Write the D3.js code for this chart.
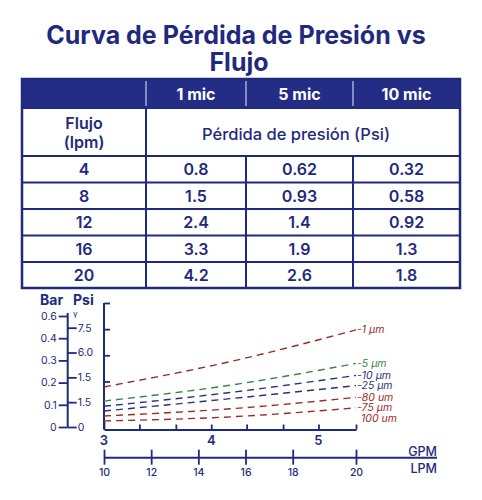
<!DOCTYPE html>
<html>
<head>
<meta charset="utf-8">
<script src="https://cdn.jsdelivr.net/npm/d3@7"></script>
<style>
  body { margin: 0; background: #fff; }
  svg { display: block; font-family: Inter, "Open Sans", sans-serif; }
</style>
</head>
<body>
<div id="chart"></div>
<script>
// table data
const tableHead = ["", "1 mic", "5 mic", "10 mic"];
const flujo = [4, 8, 12, 16, 20];
const mic1 = ["0.8", "1.5", "2.4", "3.3", "4.2"];
const mic5 = ["0.62", "0.93", "1.4", "1.9", "2.6"];
const mic10 = ["0.32", "0.58", "0.92", "1.3", "1.8"];

// curve data (flow in GPM, loss in chart units)
const flowGpm = [3.0, 4.2, 5.35];
const loss1 = [1.59, 2.58, 3.77];
const loss5 = [1.05, 1.67, 2.49];
const loss10 = [0.85, 1.39, 2.03];
const loss25 = [0.67, 1.15, 1.64];
const loss80 = [0.48, 0.76, 1.19];
const loss75 = [0.29, 0.45, 0.79];
const curveNames = ["-1 \u00b5m", "-5 \u00b5m", "-10 \u00b5m", "-25 \u00b5m", "-80 um", "-75 \u00b5m"];
const extraLabel = "100 um";

// axis ticks
const barTicks = [0, 0.1, 0.2, 0.3, 0.4, 0.5];
const barLabels = ["0", "0.1", "0.2", "0.3", "0.4", "0.6"];
const psiTicks = [0, 1, 2, 3, 4];
const psiLabels = ["0", "1.5", "1.5", "6.0", "7.5"];
const mainYTicks = [1.8, 2.8, 3.8, 4.8];
const gpmTicks = [3, 3.33, 3.67, 4, 4.33, 4.67, 5, 5.35];
const gpmLabels = [3, 4, 5];
const lpmTicks = [10, 12, 14, 16, 18, 20];

const navy = "#1f2a7c";
const red = "#9a2b2b";
const green = "#3a8447";
const blue = "#2b317e";

const svg = d3.select("#chart").append("svg")
    .attr("width", 482)
    .attr("height", 500);

/* Title */
svg.append("text")
    .attr("x", 236).attr("y", 44)
    .attr("text-anchor", "middle")
    .attr("fill", navy)
    .attr("font-size", 25).attr("font-weight", 700)
    .text("Curva de P\u00e9rdida de Presi\u00f3n vs");
svg.append("text")
    .attr("x", 239).attr("y", 71)
    .attr("text-anchor", "middle")
    .attr("fill", navy)
    .attr("font-size", 25).attr("font-weight", 700)
    .text("Flujo");

/* Table */
const colX = [22, 146, 246, 353, 460];
const rowY = [79, 108, 156, 182.5, 209, 235.5, 262, 288];
const table = svg.append("g");

table.append("rect")
    .attr("x", colX[0]).attr("y", rowY[0])
    .attr("width", colX[4] - colX[0]).attr("height", rowY[1] - rowY[0])
    .attr("fill", "#232d86");

// header dividers
[1, 2, 3].forEach(i => {
  table.append("line")
      .attr("x1", colX[i]).attr("x2", colX[i])
      .attr("y1", rowY[0] + 2).attr("y2", rowY[1] - 2)
      .attr("stroke", "#c9cce6").attr("stroke-width", 1.2);
});

tableHead.forEach((t, i) => {
  if (!t) return;
  table.append("text")
      .attr("x", (colX[i] + colX[i + 1]) / 2)
      .attr("y", (rowY[0] + rowY[1]) / 2 + 6)
      .attr("text-anchor", "middle")
      .attr("fill", "#fff")
      .attr("font-size", 16).attr("font-weight", 700)
      .text(t);
});

// grid lines
for (let r = 1; r < rowY.length - 1; r++) {
  table.append("line")
      .attr("x1", colX[0]).attr("x2", colX[4])
      .attr("y1", rowY[r]).attr("y2", rowY[r])
      .attr("stroke", navy).attr("stroke-width", 2);
}
table.append("line")
    .attr("x1", colX[1]).attr("x2", colX[1])
    .attr("y1", rowY[1]).attr("y2", rowY[7])
    .attr("stroke", navy).attr("stroke-width", 2);
[2, 3].forEach(i => {
  table.append("line")
      .attr("x1", colX[i]).attr("x2", colX[i])
      .attr("y1", rowY[2]).attr("y2", rowY[7])
      .attr("stroke", navy).attr("stroke-width", 2);
});
table.append("rect")
    .attr("x", colX[0]).attr("y", rowY[0])
    .attr("width", colX[4] - colX[0]).attr("height", rowY[7] - rowY[0])
    .attr("fill", "none")
    .attr("stroke", navy).attr("stroke-width", 2.5);

// second row
table.append("text")
    .attr("x", (colX[0] + colX[1]) / 2).attr("y", 129)
    .attr("text-anchor", "middle").attr("fill", navy)
    .attr("font-size", 16).attr("font-weight", 600)
    .text("Flujo");
table.append("text")
    .attr("x", (colX[0] + colX[1]) / 2).attr("y", 148)
    .attr("text-anchor", "middle").attr("fill", navy)
    .attr("font-size", 16).attr("font-weight", 600)
    .text("(lpm)");
table.append("text")
    .attr("x", 296).attr("y", 140)
    .attr("text-anchor", "middle").attr("fill", navy)
    .attr("font-size", 16.5).attr("font-weight", 500)
    .text("P\u00e9rdida de presi\u00f3n (Psi)");

const rows = flujo.map((f, i) => [String(f), mic1[i], mic5[i], mic10[i]]);
rows.forEach((row, r) => {
  row.forEach((v, c) => {
    table.append("text")
        .attr("x", (colX[c] + colX[c + 1]) / 2)
        .attr("y", (rowY[r + 2] + rowY[r + 3]) / 2 + 6)
        .attr("text-anchor", "middle").attr("fill", navy)
        .attr("font-size", 16).attr("font-weight", 600)
        .text(v);
  });
});

/* Chart */
const x = d3.scaleLinear().domain([3, 5.35]).range([104, 356]);
const y = d3.scaleLinear().domain([0, 4.8]).range([428.5, 303]);
const xLpm = d3.scaleLinear().domain([10, 18, 20]).range([104, 292.7, 356]);
const yBar = d3.scaleLinear().domain([0, 0.5]).range([427, 316]);
const yPsi = d3.scaleLinear().domain([0, 4]).range([427, 327.7]);

const axisStyle = g => {
  g.select(".domain").attr("stroke", navy).attr("stroke-width", 2);
  g.selectAll(".tick line").attr("stroke", navy).attr("stroke-width", 1.8);
  g.selectAll(".tick text").attr("fill", navy).attr("font-family", "Inter, sans-serif");
};

// Bar / Psi axes
svg.append("text")
    .attr("x", 40).attr("y", 305)
    .attr("fill", navy).attr("font-size", 14).attr("font-weight", 700)
    .text("Bar");
svg.append("text")
    .attr("x", 73).attr("y", 305)
    .attr("fill", navy).attr("font-size", 14).attr("font-weight", 700)
    .text("Psi");

svg.append("g")
    .attr("transform", "translate(67.7,0)")
    .call(d3.axisLeft(yBar).tickValues(barTicks)
        .tickFormat((d, i) => barLabels[i]).tickSize(9).tickSizeOuter(0).tickPadding(2))
    .call(axisStyle)
    .call(g => g.select(".domain").attr("d", "M0,313V427"))
    .call(g => g.selectAll(".tick text").attr("font-size", 10.5));

svg.append("g")
    .attr("transform", "translate(67.7,0)")
    .call(d3.axisRight(yPsi).tickValues(psiTicks)
        .tickFormat((d, i) => psiLabels[i]).tickSize(9).tickSizeOuter(0).tickPadding(1))
    .call(axisStyle)
    .call(g => g.select(".domain").remove())
    .call(g => g.selectAll(".tick text").attr("font-size", 10.5));

svg.append("text")
    .attr("x", 73).attr("y", 317)
    .attr("fill", navy).attr("font-size", 8)
    .text("\u03b3");

// main axes
svg.append("g")
    .attr("transform", "translate(104,0)")
    .call(d3.axisRight(y).tickValues(mainYTicks).tickFormat("").tickSize(6).tickSizeOuter(0))
    .call(axisStyle)
    .call(g => g.select(".domain").attr("d", "M0,303V429.5"));

svg.append("g")
    .attr("transform", "translate(0,429.5)")
    .call(d3.axisTop(x).tickValues(gpmTicks).tickFormat("").tickSize(5).tickSizeOuter(0))
    .call(axisStyle)
    .call(g => g.selectAll(".tick line").filter((d, i) => i === 0).attr("y2", -8));

svg.append("g")
    .selectAll("text")
    .data(gpmLabels)
    .join("text")
    .attr("x", d => x(d))
    .attr("y", 445)
    .attr("text-anchor", "middle")
    .attr("fill", navy).attr("font-size", 13).attr("font-weight", 600)
    .text(d => d);

svg.append("g")
    .attr("transform", "translate(0,457.7)")
    .call(d3.axisBottom(xLpm).tickValues(lpmTicks).tickSize(7).tickSizeOuter(0).tickPadding(4))
    .call(axisStyle)
    .call(g => g.select(".domain").attr("d", "M104,0H437"))
    .call(g => g.selectAll(".tick line").attr("y1", -8))
    .call(g => g.selectAll(".tick text").attr("font-size", 10.5).attr("font-weight", 500));

svg.append("text")
    .attr("x", 437).attr("y", 455.5)
    .attr("text-anchor", "end")
    .attr("fill", navy).attr("font-size", 12.5).attr("font-weight", 500)
    .text("GPM");
svg.append("text")
    .attr("x", 437).attr("y", 473)
    .attr("text-anchor", "end")
    .attr("fill", navy).attr("font-size", 12.5).attr("font-weight", 500)
    .text("LPM");

// curves
const series = [loss1, loss5, loss10, loss25, loss80, loss75];
const colors = [red, green, blue, blue, red, red];

const line = d3.line()
    .x((d, i) => x(flowGpm[i]))
    .y(d => y(d))
    .curve(d3.curveMonotoneX);

svg.append("g")
    .selectAll("path")
    .data(series)
    .join("path")
    .attr("d", d => line(d))
    .attr("fill", "none")
    .attr("stroke", (d, i) => colors[i])
    .attr("stroke-width", 1.4)
    .attr("stroke-dasharray", "7,5");

const labels = svg.append("g")
    .attr("font-size", 10.5)
    .attr("font-style", "italic");

labels.selectAll("text")
    .data(series)
    .join("text")
    .attr("x", 357)
    .attr("y", d => y(d[d.length - 1]) + 3.5)
    .attr("fill", (d, i) => colors[i])
    .text((d, i) => curveNames[i]);

labels.append("text")
    .attr("x", 361)
    .attr("y", y(loss75[loss75.length - 1]) + 14.5)
    .attr("fill", red)
    .text(extraLabel);
</script>
</body>
</html>
